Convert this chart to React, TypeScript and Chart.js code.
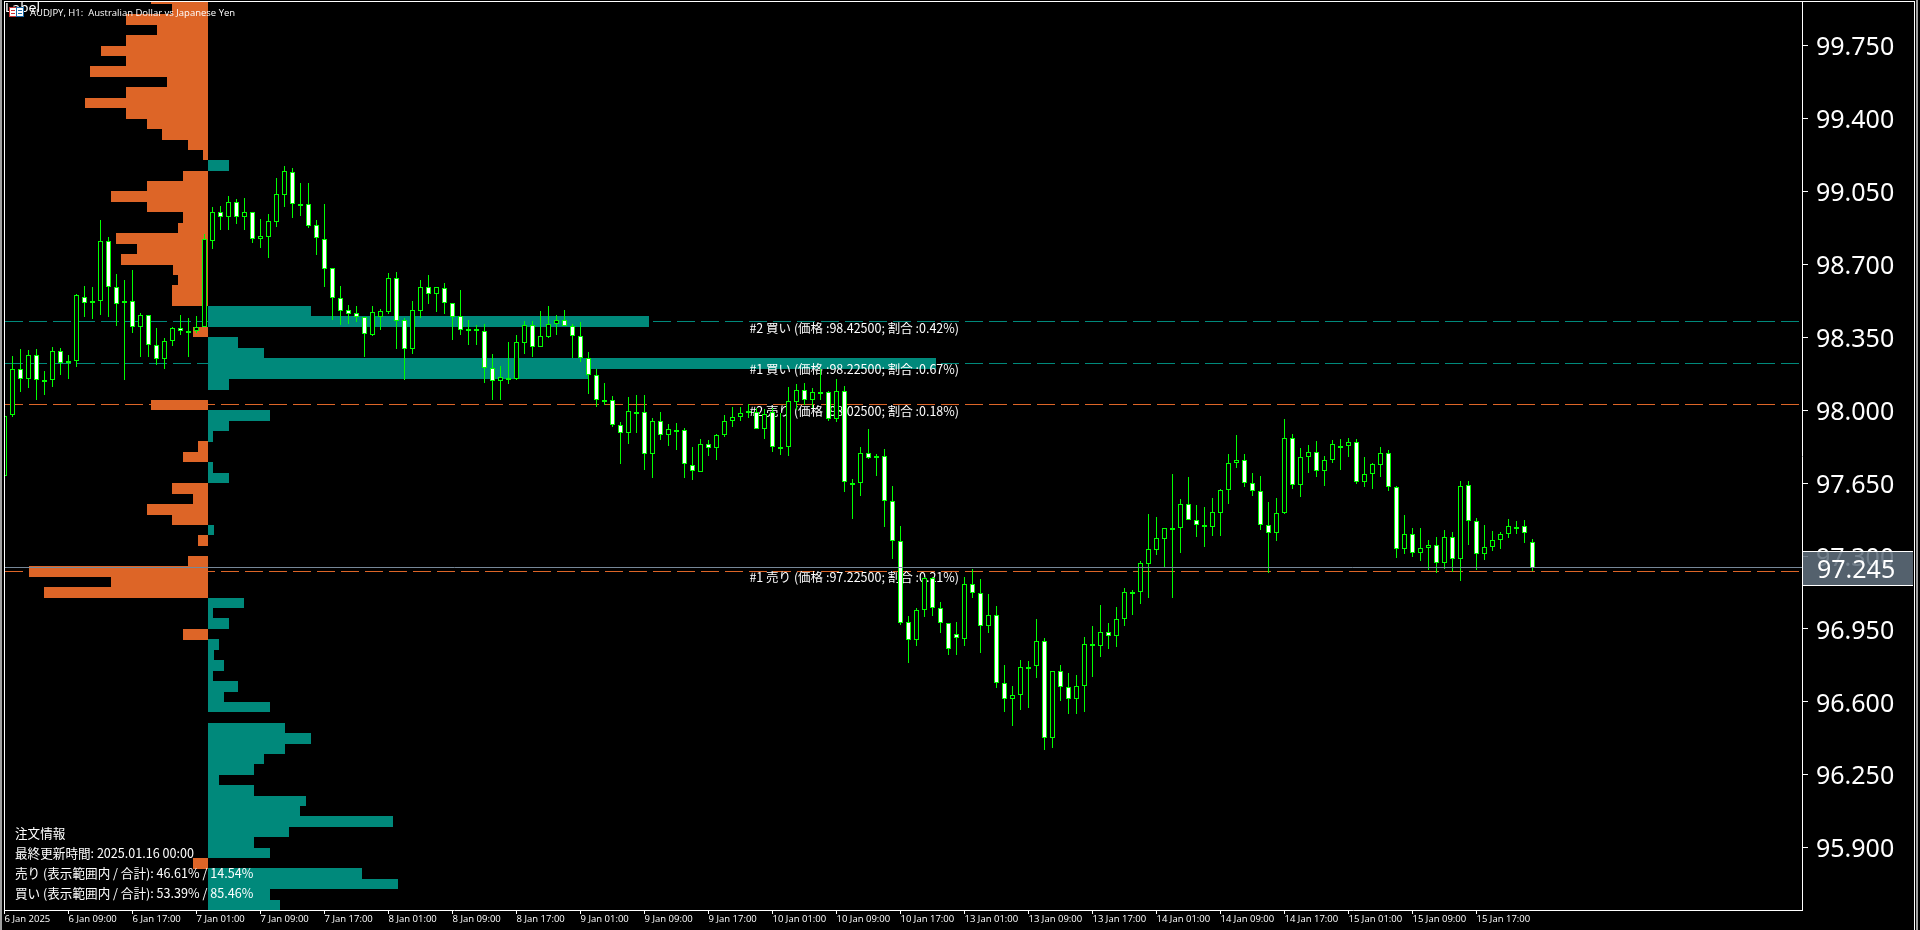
import React, { useEffect, useRef } from "react";
import { Chart, registerables } from "chart.js";

Chart.register(...registerables);

const opens = [97.685,97.975,98.197,98.152,98.265,98.143,98.143,98.284,98.226,98.236,98.546,98.514,98.527,98.812,98.591,98.514,98.524,98.399,98.457,98.313,98.245,98.332,98.394,98.370,98.380,98.399,98.815,98.951,98.930,98.999,98.930,98.951,98.824,98.834,98.906,99.035,99.143,98.992,98.989,98.889,98.821,98.682,98.538,98.481,98.466,98.447,98.363,98.450,98.474,98.634,98.433,98.296,98.479,98.591,98.557,98.586,98.514,98.452,98.389,98.389,98.380,98.202,98.140,98.154,98.152,98.325,98.409,98.303,98.354,98.413,98.433,98.404,98.356,98.250,98.169,98.047,98.049,97.927,97.890,97.989,97.991,97.789,97.948,97.881,97.904,97.905,97.737,97.706,97.837,97.818,97.879,97.948,97.967,97.986,97.991,97.909,97.991,97.823,97.823,98.039,98.097,98.049,98.086,98.087,97.957,98.092,97.651,97.650,97.794,97.770,97.780,97.564,97.372,96.983,96.895,97.041,97.194,97.050,96.978,96.925,96.904,97.165,97.122,96.962,97.017,96.690,96.613,96.631,96.766,96.770,96.892,96.426,96.748,96.671,96.613,96.676,96.877,96.868,96.935,96.916,96.997,97.126,97.127,97.264,97.331,97.384,97.434,97.437,97.549,97.473,97.449,97.439,97.509,97.615,97.746,97.761,97.650,97.612,97.449,97.410,97.506,97.866,97.641,97.775,97.799,97.708,97.761,97.827,97.828,97.847,97.655,97.693,97.739,97.794,97.631,97.333,97.405,97.314,97.338,97.353,97.266,97.391,97.285,97.641,97.468,97.309,97.343,97.377,97.405,97.438,97.444,97.367];
const closes = [97.973,98.197,98.152,98.265,98.143,98.145,98.284,98.226,98.236,98.553,98.514,98.527,98.812,98.591,98.509,98.524,98.399,98.457,98.313,98.245,98.332,98.394,98.380,98.380,98.399,98.821,98.951,98.930,98.999,98.930,98.951,98.824,98.836,98.908,99.037,99.148,98.992,98.983,98.887,98.829,98.677,98.541,98.479,98.464,98.447,98.365,98.471,98.476,98.634,98.431,98.296,98.481,98.591,98.557,98.591,98.514,98.450,98.385,98.385,98.380,98.202,98.140,98.159,98.156,98.327,98.409,98.303,98.356,98.413,98.433,98.404,98.356,98.250,98.169,98.049,98.049,97.927,97.890,97.996,97.991,97.789,97.948,97.881,97.909,97.906,97.741,97.708,97.837,97.818,97.881,97.948,97.967,97.986,97.996,97.909,97.981,97.823,97.825,98.044,98.097,98.049,98.087,98.088,97.957,98.092,97.655,97.653,97.794,97.770,97.780,97.564,97.372,96.981,96.897,97.041,97.194,97.050,96.978,96.853,96.906,97.165,97.122,96.964,97.017,96.690,96.613,96.633,96.767,96.768,96.892,96.426,96.748,96.671,96.613,96.676,96.877,96.868,96.935,96.916,96.997,97.127,97.128,97.266,97.333,97.386,97.434,97.436,97.549,97.473,97.449,97.439,97.511,97.617,97.746,97.761,97.650,97.612,97.449,97.410,97.506,97.866,97.641,97.775,97.799,97.708,97.761,97.837,97.829,97.847,97.655,97.693,97.741,97.794,97.631,97.333,97.405,97.314,97.338,97.353,97.266,97.391,97.285,97.636,97.468,97.309,97.343,97.377,97.405,97.444,97.440,97.410,97.245];
const highs = [97.973,98.261,98.293,98.290,98.293,98.189,98.303,98.300,98.265,98.559,98.597,98.591,98.914,98.831,98.655,98.626,98.674,98.466,98.457,98.396,98.348,98.399,98.458,98.442,98.453,98.847,98.976,98.981,99.029,99.013,99.020,98.951,98.919,98.941,99.116,99.173,99.164,99.092,99.092,98.914,98.989,98.682,98.597,98.506,98.501,98.447,98.501,98.485,98.658,98.664,98.442,98.525,98.626,98.650,98.591,98.610,98.514,98.578,98.434,98.410,98.415,98.271,98.213,98.328,98.362,98.431,98.428,98.476,98.501,98.458,98.482,98.413,98.424,98.279,98.197,98.130,98.069,97.944,98.063,98.073,98.073,97.962,97.991,97.933,97.938,97.914,97.824,97.861,97.858,97.885,97.977,98.015,98.015,98.029,98.012,98.005,98.010,97.986,98.111,98.125,98.130,98.106,98.197,98.092,98.149,98.116,97.669,97.823,97.909,97.789,97.813,97.637,97.445,97.013,97.050,97.200,97.202,97.080,96.978,96.984,97.199,97.237,97.189,97.119,97.060,96.778,96.676,96.802,96.797,96.997,96.906,96.748,96.778,96.740,96.730,96.912,96.965,97.066,96.980,97.055,97.146,97.137,97.276,97.501,97.488,97.434,97.695,97.575,97.679,97.545,97.535,97.580,97.621,97.789,97.882,97.789,97.698,97.684,97.560,97.580,97.959,97.887,97.820,97.834,97.853,97.781,97.858,97.863,97.868,97.863,97.776,97.748,97.824,97.810,97.637,97.497,97.434,97.434,97.378,97.391,97.426,97.416,97.661,97.661,97.484,97.450,97.421,97.416,97.479,97.469,97.474,97.383];
const lows = [97.685,97.970,98.090,98.109,98.051,98.071,98.114,98.167,98.152,98.210,98.450,98.439,98.458,98.450,98.407,98.143,98.373,98.258,98.255,98.218,98.200,98.311,98.363,98.255,98.373,98.399,98.776,98.866,98.866,98.896,98.866,98.805,98.781,98.733,98.880,98.976,98.924,98.933,98.876,98.746,98.592,98.434,98.410,98.415,98.424,98.256,98.357,98.386,98.463,98.295,98.146,98.271,98.444,98.511,98.472,98.463,98.338,98.362,98.314,98.314,98.132,98.050,98.050,98.127,98.146,98.271,98.258,98.303,98.348,98.362,98.404,98.252,98.234,98.079,98.016,98.026,97.920,97.743,97.839,97.890,97.714,97.676,97.858,97.829,97.810,97.676,97.666,97.703,97.781,97.762,97.872,97.920,97.949,97.962,97.909,97.863,97.800,97.786,97.781,98.002,98.026,98.012,98.049,97.948,97.943,97.607,97.479,97.589,97.765,97.685,97.440,97.287,96.970,96.788,96.869,97.008,97.013,96.932,96.826,96.826,96.869,97.100,96.836,96.932,96.668,96.552,96.485,96.562,96.572,96.716,96.370,96.380,96.605,96.543,96.543,96.552,96.720,96.816,96.855,96.864,96.965,97.018,97.071,97.101,97.303,97.247,97.101,97.316,97.473,97.392,97.344,97.397,97.397,97.551,97.724,97.632,97.589,97.426,97.220,97.373,97.503,97.623,97.584,97.700,97.680,97.637,97.748,97.714,97.776,97.647,97.632,97.623,97.680,97.613,97.292,97.311,97.296,97.277,97.234,97.220,97.239,97.224,97.181,97.354,97.234,97.282,97.325,97.335,97.388,97.407,97.364,97.229];

const binPrices = [99.975,99.925,99.875,99.825,99.775,99.725,99.675,99.625,99.575,99.525,99.475,99.425,99.375,99.325,99.275,99.225,99.175,99.125,99.075,99.025,98.975,98.925,98.875,98.825,98.775,98.725,98.675,98.625,98.575,98.525,98.475,98.425,98.375,98.325,98.275,98.225,98.175,98.125,98.075,98.025,97.975,97.925,97.875,97.825,97.775,97.725,97.675,97.625,97.575,97.525,97.475,97.425,97.375,97.325,97.275,97.225,97.175,97.125,97.075,97.025,96.975,96.925,96.875,96.825,96.775,96.725,96.675,96.625,96.575,96.525,96.475,96.425,96.375,96.325,96.275,96.225,96.175,96.125,96.075,96.025,95.975,95.925,95.875,95.825,95.775,95.725,95.675,95.625];
const sellShare = [.052,.033,.075,.047,.075,.098,.075,.109,.038,.075,.113,.075,.056,.042,.018,.005,0,.023,.056,.089,.056,.023,.028,.085,.065,.08,.032,.028,.033,.033,0,0,.014,0,0,0,0,0,0,.052,0,0,0,.009,.023,0,0,.033,.014,.056,.033,0,.009,0,.018,.165,.089,.151,0,0,0,.023,0,0,0,0,0,0,0,0,0,0,0,0,0,0,0,0,0,0,0,0,0,.014,0,0,0,0];
const buyShare = [0,0,0,0,0,0,0,0,0,0,0,0,0,0,0,0,.019,0,0,0,0,0,0,0,0,0,0,0,0,0,.095,.406,0,.028,.052,.67,.35,.019,0,0,.057,.019,.005,0,0,.005,.019,0,0,0,0,.006,0,0,0,0,0,0,.033,.005,.019,0,.01,.006,.015,.005,.028,.015,.057,0,.071,.095,.071,.052,.042,.01,.042,.09,.085,.17,.075,.042,.057,0,.142,.175,.057,.066];

const timeLabels = ["6 Jan 2025","6 Jan 09:00","6 Jan 17:00","7 Jan 01:00","7 Jan 09:00","7 Jan 17:00","8 Jan 01:00","8 Jan 09:00","8 Jan 17:00","9 Jan 01:00","9 Jan 09:00","9 Jan 17:00","10 Jan 01:00","10 Jan 09:00","10 Jan 17:00","13 Jan 01:00","13 Jan 09:00","13 Jan 17:00","14 Jan 01:00","14 Jan 09:00","14 Jan 17:00","15 Jan 01:00","15 Jan 09:00","15 Jan 17:00"];
const priceTicks = [99.75,99.4,99.05,98.7,98.35,98.0,97.65,97.3,96.95,96.6,96.25,95.9];
const currentPrice = 97.245;
const buyOrders = [98.425, 98.225];
const sellOrders = [98.025, 97.225];
const orderPrices = [98.425, 98.225, 98.025, 97.225];
const orderLabels = [
  "#2 買い (価格 :98.42500; 割合 :0.42%)",
  "#1 買い (価格 :98.22500; 割合 :0.67%)",
  "#2 売り (価格 :98.02500; 割合 :0.18%)",
  "#1 売り (価格 :97.22500; 割合 :0.21%)",
];
const infoLines = [
  "注文情報",
  "最終更新時間: 2025.01.16 00:00",
  "売り (表示範囲内 / 合計): 46.61% / 14.54%",
  "買い (表示範囲内 / 合計): 53.39% / 85.46%",
];
const titleText = "AUDJPY, H1:  Australian Dollar vs Japanese Yen";

const TEAL = "#00897B";
const ORANGE = "#DD6527";
const GREEN = "#00FF00";
const CJK = '"Noto Sans CJK JP"';
const X_MIN = 0.0625;
const X_MAX = 224.6875;

const snapPlugin = {
  id: "snap",
  afterDatasetsUpdate(chart: any) {
    chart.data.datasets.forEach((ds: any, idx: number) => {
      const meta = chart.getDatasetMeta(idx);
      if (ds.type === "line") {
        meta.data.forEach((pt: any) => { pt.y = Math.floor(pt.y - 0.2) + 0.5; });
      } else if (ds.label === "Sell" || ds.label === "Buy") {
        meta.data.forEach((el: any) => {
          const t = Math.round(el.y - 5.3), b = Math.round(el.y + 5.3);
          el.y = (t + b) / 2; el.height = b - t;
          el.x = Math.round(el.x); el.base = Math.round(el.base);
        });
      } else {
        meta.data.forEach((el: any) => {
          let t = Math.round(Math.min(el.y, el.base)), b = Math.round(Math.max(el.y, el.base));
          if (ds.label === "Body" && b - t < 2) b = t + 2;
          if (b <= t) b = t + 1;
          el.y = t; el.base = b;
        });
      }
    });
  },
};

const overlayPlugin = {
  id: "overlay",
  beforeDraw(chart: any) {
    const c = chart.ctx;
    c.save();
    c.fillStyle = "#000";
    c.fillRect(0, 0, 1920, 930);
    c.restore();
  },
  afterDatasetDraw(chart: any, args: any) {
    if (chart.data.datasets[args.index].label !== "Buy") return;
    const c = chart.ctx, y = chart.scales.y;
    c.save();
    c.fillStyle = "#fff";
    c.font = `12.5px ${CJK}`;
    c.textAlign = "right";
    c.textBaseline = "middle";
    orderPrices.forEach((p, i) => {
      c.fillText(orderLabels[i], 959, y.getPixelForValue(p) + 6);
    });
    c.restore();
  },
  afterDraw(chart: any) {
    const c = chart.ctx, y = chart.scales.y;
    c.save();
    // outer frame
    c.fillStyle = "#fff";
    c.fillRect(4, 1, 1911, 1);
    c.fillRect(4, 1, 1, 910);
    c.fillRect(1914, 1, 1, 929);
    c.fillStyle = "#a0a0a0";
    c.fillRect(0, 0, 2, 930);
    c.fillRect(1916, 0, 2, 930);
    // current price tag
    const py = Math.round(y.getPixelForValue(currentPrice));
    c.fillStyle = "rgba(96,110,124,0.88)";
    c.fillRect(1803, py - 17, 110, 34);
    c.fillStyle = "#fff";
    c.fillRect(1803, py - 17, 110, 1);
    c.fillRect(1803, py + 17, 110, 1);
    c.font = '25px "Noto Sans"';
    c.textAlign = "left";
    c.textBaseline = "middle";
    c.fillText(currentPrice.toFixed(3), 1817, py + 3);
    // label + title
    c.fillStyle = "#fff";
    c.font = "13px DejaVu Sans";
    c.textBaseline = "middle";
    c.fillText("Label", 5, 9);
    // icon
    c.fillStyle = "#fff";
    c.fillRect(9, 7, 15, 10);
    c.strokeStyle = "#cc3333";
    c.strokeRect(9.5, 7.5, 7, 9);
    c.strokeStyle = "#1a6aa8";
    c.strokeRect(16.5, 7.5, 7, 9);
    c.fillStyle = "#cc3333";
    c.fillRect(11, 10, 4, 1);
    c.fillRect(11, 13, 4, 1);
    c.fillStyle = "#1a6aa8";
    c.fillRect(18, 10, 4, 1);
    c.fillRect(18, 13, 4, 1);
    c.fillStyle = "#fff";
    c.font = '9.5px "Open Sans"';
    c.fillText(titleText, 30, 13);
    // info block
    c.font = `12.6px ${CJK}`;
    infoLines.forEach((t, i) => c.fillText(t, 15, 833 + i * 20));
    c.restore();
  },
};

function lineDs(price: number, color: string, dash: number[], order: number) {
  return {
    type: "line", label: "L" + price, order,
    data: [{ x: X_MIN, y: price }, { x: X_MAX, y: price }],
    borderColor: color, borderWidth: 1, borderDash: dash, pointRadius: 0, tension: 0, clip: true,
  };
}

function profileDs(label: string, share: number[], sign: number, color: string, order: number) {
  const data: any[] = [];
  share.forEach((v, i) => { if (v > 0) data.push({ x: [0, sign * v], y: binPrices[i] }); });
  return {
    type: "bar", label, order, indexAxis: "y", xAxisID: "px", yAxisID: "y", data,
    backgroundColor: color, borderWidth: 0, barThickness: 10.4, grouped: false, inflateAmount: 0, borderSkipped: false,
  };
}

export default function App() {
  const ref = useRef<HTMLCanvasElement | null>(null);
  useEffect(() => {
    document.body.style.margin = "0";
    document.body.style.background = "#000";
    const idx = opens.map((_, i) => i);
    const noPad = (s: any) => { s.paddingLeft = 0; s.paddingRight = 0; s.paddingTop = 0; s.paddingBottom = 0; };
    const chart = new Chart(ref.current as HTMLCanvasElement, {
      type: "bar",
      data: {
        datasets: [
          lineDs(buyOrders[0], TEAL, [18, 6], 10),
          lineDs(buyOrders[1], TEAL, [18, 6], 10),
          lineDs(sellOrders[0], ORANGE, [18, 6], 10),
          lineDs(sellOrders[1], ORANGE, [18, 6], 10),
          profileDs("Sell", sellShare, -1, ORANGE, 8),
          profileDs("Buy", buyShare, 1, TEAL, 7),
          {
            type: "bar", label: "Wick", order: 5, xAxisID: "x", yAxisID: "y",
            data: idx.map((i) => ({ x: i, y: [lows[i], highs[i]] })),
            backgroundColor: GREEN, borderWidth: 0, barThickness: 1, grouped: false, inflateAmount: 0, borderSkipped: false,
          },
          {
            type: "bar", label: "Body", order: 4, xAxisID: "x", yAxisID: "y",
            data: idx.map((i) => ({ x: i, y: [opens[i], closes[i]] })),
            backgroundColor: idx.map((i) => (closes[i] < opens[i] ? "#fff" : "#000")),
            borderColor: GREEN, borderWidth: 1, barThickness: 5, grouped: false, inflateAmount: 0, borderSkipped: false,
          },
          lineDs(currentPrice, "#778899", [], 1),
        ] as any,
      },
      options: {
        responsive: false,
        animation: false,
        devicePixelRatio: 1,
        layout: { padding: { left: 5, top: 2, right: 0, bottom: 0 } },
        plugins: { legend: { display: false }, tooltip: { enabled: false }, title: { display: false } },
        scales: {
          x: {
            type: "linear", position: "bottom", min: X_MIN, max: X_MAX, offset: false,
            afterBuildTicks: (s: any) => { s.ticks = timeLabels.map((_, i) => ({ value: i * 8 })); },
            afterFit: (s: any) => { s.height = 20; noPad(s); },
            grid: { display: true, drawOnChartArea: false, drawTicks: true, tickLength: 4, color: "#fff", offset: false },
            border: { display: true, color: "#fff", width: 1 },
            ticks: {
              autoSkip: false, maxRotation: 0, minRotation: 0, align: "start", padding: 0, color: "#fff",
              font: { family: "Open Sans", size: 9.5 },
              callback: (v: any) => timeLabels[Math.round(v / 8)],
            },
          },
          px: {
            type: "linear", axis: "x", display: false, min: -0.1868, max: 1.467, offset: false, grid: { offset: false },
          },
          y: {
            type: "linear", position: "right", min: 95.60098, max: 99.96008, offset: false,
            afterBuildTicks: (s: any) => { s.ticks = priceTicks.map((v) => ({ value: v })); },
            afterFit: (s: any) => {
              s.width = 118; noPad(s);
              if (!s.__shifted) {
                s.__shifted = true;
                const orig = s._computeLabelItems.bind(s);
                s._computeLabelItems = (area: any) => orig(area).map((it: any) => ({
                  ...it,
                  options: { ...it.options, translation: [it.options.translation[0], it.options.translation[1] + 2.5] },
                }));
              }
            },
            grid: { display: true, drawOnChartArea: false, drawTicks: true, tickLength: 6, color: "#fff", offset: false },
            border: { display: true, color: "#fff", width: 1 },
            ticks: {
              autoSkip: false, padding: 8, color: "#fff",
              font: { family: "Noto Sans", size: 25 },
              callback: (v: any) => Number(v).toFixed(3),
            },
          },
        },
      } as any,
      plugins: [snapPlugin, overlayPlugin] as any,
    });
    return () => chart.destroy();
  }, []);
  return <canvas ref={ref} width={1920} height={930} style={{ display: "block" }} />;
}
